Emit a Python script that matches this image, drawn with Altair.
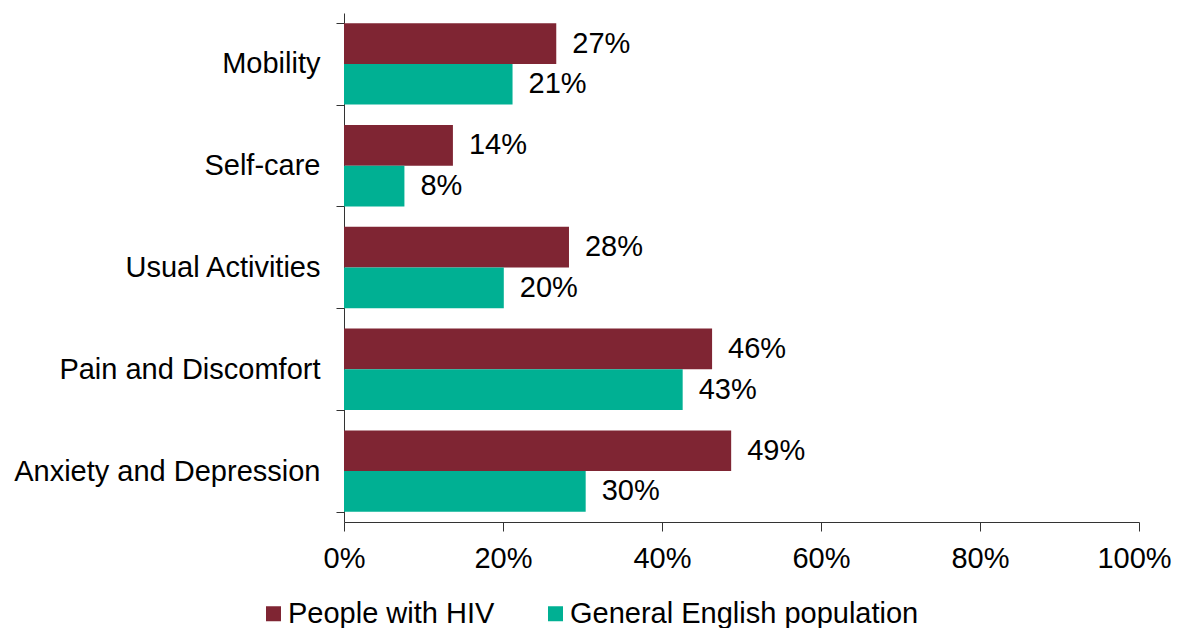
import altair as alt
import pandas as pd

categories = ["Mobility", "Self-care", "Usual Activities", "Pain and Discomfort", "Anxiety and Depression"]
series = ["People with HIV", "General English population"]
hiv_values = [26.7, 13.7, 28.3, 46.3, 48.7]
gen_values = [21.2, 7.6, 20.1, 42.6, 30.4]
hiv_labels = ["27%", "14%", "28%", "46%", "49%"]
gen_labels = ["21%", "8%", "20%", "43%", "30%"]
colors = ["#7F2533", "#00B093"]

rows = []
for c, v, l in zip(categories, hiv_values, hiv_labels):
    rows.append({"category": c, "series": series[0], "value": v, "label": l})
for c, v, l in zip(categories, gen_values, gen_labels):
    rows.append({"category": c, "series": series[1], "value": v, "label": l})
df = pd.DataFrame(rows)

FONT = "Liberation Sans"
FS = 29

y_enc = alt.Y(
    "category:N", sort=categories, title=None,
    scale=alt.Scale(paddingInner=0.2, paddingOuter=0.1),
    axis=alt.Axis(tickBand="extent", tickSize=8, labelPadding=16, labelFontSize=FS,
                  labelFont=FONT, labelColor="#000", domainColor="#333", tickColor="#333",
                  labelLimit=400),
)
yoff = alt.YOffset("series:N", sort=series, scale=alt.Scale(paddingInner=0, paddingOuter=0))

x_enc = alt.X(
    "value:Q", title=None,
    scale=alt.Scale(domain=[0, 100], nice=False),
    axis=alt.Axis(values=[0, 20, 40, 60, 80, 100], labelExpr="datum.value + '%'", grid=False,
                  tickSize=9, labelPadding=13, labelFlush=False, labelFontSize=FS, labelFont=FONT,
                  labelOffset={"condition": {"test": "datum.value === 100", "value": -5}, "value": 0},
                  labelColor="#000", domainColor="#333", tickColor="#333"),
)

bars = alt.Chart(df).mark_bar().encode(
    x=x_enc, y=y_enc, yOffset=yoff,
    color=alt.Color("series:N", sort=series, scale=alt.Scale(domain=series, range=colors),
                    legend=alt.Legend(title=None, orient="none", direction="horizontal",
                                      legendX=-85, legendY=586, symbolType="square",
                                      symbolSize=225, symbolStrokeWidth=0, labelFontSize=FS,
                                      labelFont=FONT, labelColor="#000", columnPadding=46,
                                      labelOffset=0, labelLimit=500)),
)

text = alt.Chart(df).mark_text(align="left", baseline="middle", dx=16, fontSize=FS, font=FONT,
                               color="#000").encode(
    x="value:Q", y=alt.Y("category:N", sort=categories), yOffset=yoff, text="label:N",
)

chart = (bars + text).properties(
    width=795, height=509,
    autosize=alt.AutoSizeParams(type="none"),
    padding={"left": 336, "top": 5, "right": 33, "bottom": 106},
).configure_view(stroke=None)

chart.save("out.html", embed_options={"renderer": "svg", "actions": False})
